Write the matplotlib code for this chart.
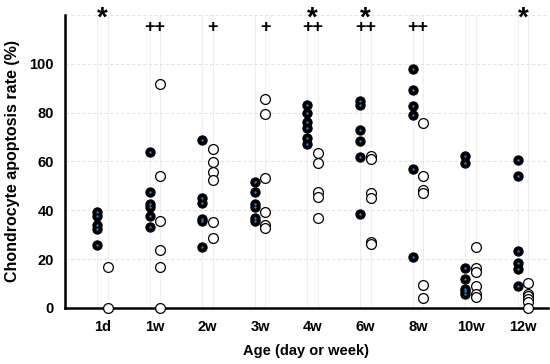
import matplotlib
matplotlib.use("Agg")
import matplotlib.pyplot as plt
import numpy as np

plt.rcParams['font.family'] = ['Liberation Sans', 'DejaVu Sans']

categories = ["1d", "1w", "2w", "3w", "4w", "6w", "8w", "10w", "12w"]

filled = [
    [39.4, 37.8, 34.0, 32.2, 25.8],
    [63.9, 47.6, 42.5, 41.2, 37.7, 33.0],
    [68.7, 44.9, 43.1, 36.3, 35.8, 24.9],
    [51.7, 47.3, 42.4, 41.2, 36.7, 35.6],
    [83.3, 79.8, 76.2, 73.5, 69.4, 67.3],
    [84.7, 83.0, 72.8, 68.4, 61.9, 38.4],
    [98.0, 89.4, 82.7, 78.9, 57.1, 20.8],
    [62.2, 59.4, 16.3, 12.0, 7.8, 6.8, 5.7],
    [60.5, 54.0, 23.4, 18.4, 16.0, 8.8],
]
hollow = [
    [16.6, 0.0],
    [91.8, 54.1, 35.6, 23.8, 16.6, 0.0],
    [64.9, 59.6, 55.5, 52.4, 35.3, 28.8],
    [85.7, 79.3, 53.1, 39.4, 34.0, 32.7],
    [63.5, 59.4, 47.3, 45.6, 36.7],
    [62.2, 60.9, 47.2, 45.2, 27.2, 26.1],
    [75.8, 54.0, 48.3, 47.2, 9.5, 4.1],
    [24.9, 16.3, 14.7, 8.8, 5.7, 4.5],
    [10.2, 5.8, 4.7, 3.7, 2.3, 0.0],
]
star_marks = ["1d", "4w", "6w", "12w"]
plus_marks = {"1w": "++", "2w": "+", "3w": "+", "4w": "++", "6w": "++", "8w": "++"}
yticks = [0, 20, 40, 60, 80, 100]

fig = plt.figure(figsize=(5.5, 3.64), dpi=100)
ax = fig.add_axes([0.118, 0.154, 0.878, 0.805])

off = 0.1
x = np.arange(len(categories))
for i in range(len(categories)):
    ax.axvline(i - off, color='#eeeeee', lw=0.8, zorder=0)
    ax.axvline(i + off, color='#eeeeee', lw=0.8, zorder=0)
for v in [20, 40, 60, 80, 100, 120]:
    ax.axhline(v, color='#e4e4e4', lw=0.8, ls=(0, (3, 2)), zorder=0)

for i in range(len(categories)):
    fv = filled[i]
    ax.scatter([i - off] * len(fv), fv, s=44, c='black', edgecolors='black',
               linewidths=0.8, zorder=3, clip_on=False)
    ax.scatter([i - off] * len(fv), fv, s=3, c='#2f7fc1', linewidths=0,
               zorder=4, clip_on=False)
    hv = hollow[i]
    ax.scatter([i + off] * len(hv), hv, s=50, c='white', edgecolors='black',
               linewidths=0.9, zorder=3, clip_on=False)

for c in star_marks:
    i = categories.index(c)
    ax.text(i, 118.6, "*", ha='center', va='center', fontsize=20,
            fontweight='bold', zorder=5, clip_on=False)
for c, t in plus_marks.items():
    i = categories.index(c)
    xp = i if len(t) > 1 else i + off
    ax.text(xp, 114.8, t, ha='center', va='center', fontsize=13,
            fontweight='bold', zorder=5)

ax.set_xlim(-0.71, 8.47)
ax.set_ylim(0, 120)
ax.set_xticks(x)
ax.set_xticklabels(categories, fontsize=10.5, fontweight='bold')
ax.set_yticks(yticks)
ax.set_yticklabels([str(v) for v in yticks], fontsize=10.5, fontweight='bold')
ax.tick_params(axis='both', length=0)
ax.tick_params(axis='y', pad=8)
ax.tick_params(axis='x', pad=9)
for s in ['top', 'right']:
    ax.spines[s].set_visible(False)
for s in ['left', 'bottom']:
    ax.spines[s].set_linewidth(1.8)
    ax.spines[s].set_zorder(2)
ax.set_xlabel("Age (day or week)", fontsize=10.5, fontweight='bold', labelpad=7)
ax.set_ylabel("Chondrocyte apoptosis rate (%)", fontsize=11.5, fontweight='bold', labelpad=7)

fig.savefig("out.png", dpi=100)
